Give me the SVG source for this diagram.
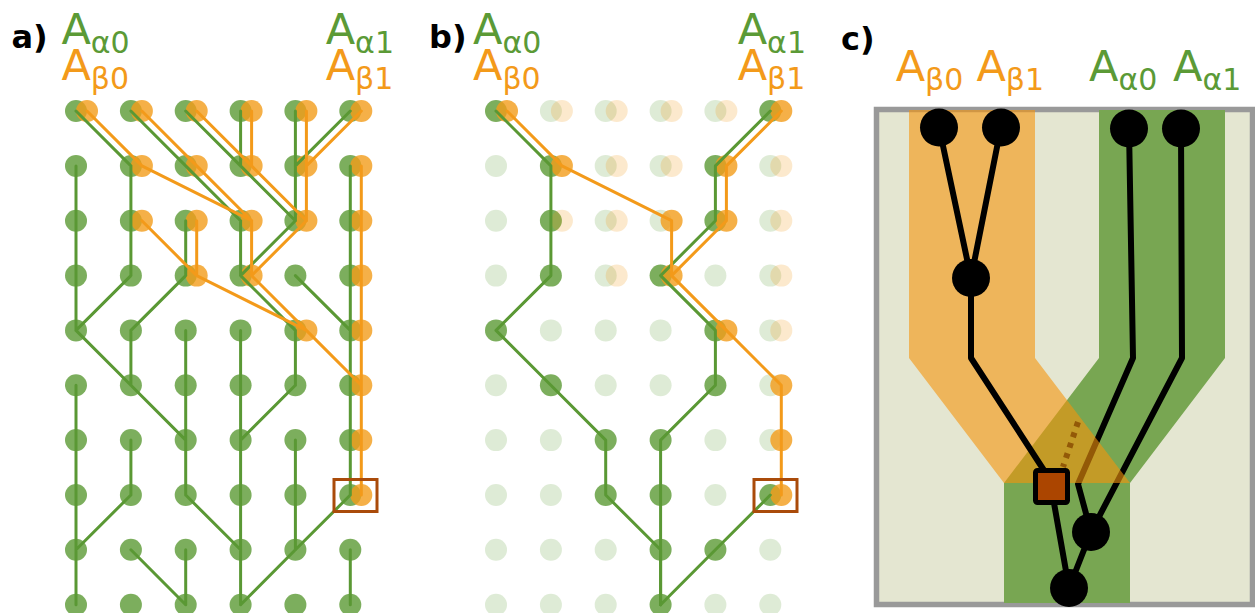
<svg xmlns="http://www.w3.org/2000/svg" width="1255" height="613" viewBox="0 0 1255 613">
  <style>
    .lbl { font-family: "DejaVu Sans", "Liberation Sans", sans-serif; font-weight: bold; font-size: 32px; fill: #000; }
    .nm { font-family: "DejaVu Sans", "Liberation Sans", sans-serif; font-size: 43px; }
    .sub { font-size: 30px; }
    .tg { fill: #5b9a36; }
    .to { fill: #f39a1a; }
    circle { r: 11px; }
    .g { fill: #5b9a34; fill-opacity: 0.8; }
    .o { fill: #f39c1a; fill-opacity: 0.8; }
    .gf { fill: #5b9a34; fill-opacity: 0.2; }
    .of { fill: #f39c1a; fill-opacity: 0.22; }
    .lg { fill: none; stroke: #5a9834; stroke-width: 3; stroke-linecap: round; stroke-linejoin: round; }
    .lo { fill: none; stroke: #f39a1a; stroke-width: 3; stroke-linecap: round; stroke-linejoin: round; }
    .box { fill: none; stroke: #aa4b0a; stroke-width: 3; }
    .cn { fill: #000; }
    .cn circle { r: 19px; }
    .bl { fill: none; stroke: #000; stroke-width: 6; stroke-linejoin: round; }
  </style>

  <!-- panel labels -->
  <text class="lbl" x="11.5" y="48">a)</text>
  <text class="lbl" x="429" y="48">b)</text>
  <text class="lbl" x="841" y="50">c)</text>

  <!-- ===== panel a ===== -->
  <g id="panel-a">
    <text class="nm tg" x="61.4" y="44">A<tspan class="sub" dy="9">α0</tspan></text>
    <text class="nm to" x="61.4" y="80">A<tspan class="sub" dy="9">β0</tspan></text>
    <text class="nm tg" x="325.7" y="44">A<tspan class="sub" dy="9">α1</tspan></text>
    <text class="nm to" x="325.7" y="80">A<tspan class="sub" dy="9">β1</tspan></text>

    <g id="a-nodes">
      <g id="a-r0c0"><circle class="g" cx="76" cy="111"/><circle class="o" cx="87" cy="111"/></g>
      <g id="a-r0c1"><circle class="g" cx="130.9" cy="111"/><circle class="o" cx="141.9" cy="111"/></g>
      <g id="a-r0c2"><circle class="g" cx="185.7" cy="111"/><circle class="o" cx="196.7" cy="111"/></g>
      <g id="a-r0c3"><circle class="g" cx="240.6" cy="111"/><circle class="o" cx="251.6" cy="111"/></g>
      <g id="a-r0c4"><circle class="g" cx="295.4" cy="111"/><circle class="o" cx="306.4" cy="111"/></g>
      <g id="a-r0c5"><circle class="g" cx="350.3" cy="111"/><circle class="o" cx="361.3" cy="111"/></g>

      <g id="a-r1c0"><circle class="g" cx="76" cy="165.9"/></g>
      <g id="a-r1c1"><circle class="g" cx="130.9" cy="165.9"/><circle class="o" cx="141.9" cy="165.9"/></g>
      <g id="a-r1c2"><circle class="g" cx="185.7" cy="165.9"/><circle class="o" cx="196.7" cy="165.9"/></g>
      <g id="a-r1c3"><circle class="g" cx="240.6" cy="165.9"/><circle class="o" cx="251.6" cy="165.9"/></g>
      <g id="a-r1c4"><circle class="g" cx="295.4" cy="165.9"/><circle class="o" cx="306.4" cy="165.9"/></g>
      <g id="a-r1c5"><circle class="g" cx="350.3" cy="165.9"/><circle class="o" cx="361.3" cy="165.9"/></g>

      <g id="a-r2c0"><circle class="g" cx="76" cy="220.7"/></g>
      <g id="a-r2c1"><circle class="g" cx="130.9" cy="220.7"/><circle class="o" cx="141.9" cy="220.7"/></g>
      <g id="a-r2c2"><circle class="g" cx="185.7" cy="220.7"/><circle class="o" cx="196.7" cy="220.7"/></g>
      <g id="a-r2c3"><circle class="g" cx="240.6" cy="220.7"/><circle class="o" cx="251.6" cy="220.7"/></g>
      <g id="a-r2c4"><circle class="g" cx="295.4" cy="220.7"/><circle class="o" cx="306.4" cy="220.7"/></g>
      <g id="a-r2c5"><circle class="g" cx="350.3" cy="220.7"/><circle class="o" cx="361.3" cy="220.7"/></g>

      <g id="a-r3c0"><circle class="g" cx="76" cy="275.6"/></g>
      <g id="a-r3c1"><circle class="g" cx="130.9" cy="275.6"/></g>
      <g id="a-r3c2"><circle class="g" cx="185.7" cy="275.6"/><circle class="o" cx="196.7" cy="275.6"/></g>
      <g id="a-r3c3"><circle class="g" cx="240.6" cy="275.6"/><circle class="o" cx="251.6" cy="275.6"/></g>
      <g id="a-r3c4"><circle class="g" cx="295.4" cy="275.6"/></g>
      <g id="a-r3c5"><circle class="g" cx="350.3" cy="275.6"/><circle class="o" cx="361.3" cy="275.6"/></g>

      <g id="a-r4c0"><circle class="g" cx="76" cy="330.4"/></g>
      <g id="a-r4c1"><circle class="g" cx="130.9" cy="330.4"/></g>
      <g id="a-r4c2"><circle class="g" cx="185.7" cy="330.4"/></g>
      <g id="a-r4c3"><circle class="g" cx="240.6" cy="330.4"/></g>
      <g id="a-r4c4"><circle class="g" cx="295.4" cy="330.4"/><circle class="o" cx="306.4" cy="330.4"/></g>
      <g id="a-r4c5"><circle class="g" cx="350.3" cy="330.4"/><circle class="o" cx="361.3" cy="330.4"/></g>

      <g id="a-r5c0"><circle class="g" cx="76" cy="385.3"/></g>
      <g id="a-r5c1"><circle class="g" cx="130.9" cy="385.3"/></g>
      <g id="a-r5c2"><circle class="g" cx="185.7" cy="385.3"/></g>
      <g id="a-r5c3"><circle class="g" cx="240.6" cy="385.3"/></g>
      <g id="a-r5c4"><circle class="g" cx="295.4" cy="385.3"/></g>
      <g id="a-r5c5"><circle class="g" cx="350.3" cy="385.3"/><circle class="o" cx="361.3" cy="385.3"/></g>

      <g id="a-r6c0"><circle class="g" cx="76" cy="440.1"/></g>
      <g id="a-r6c1"><circle class="g" cx="130.9" cy="440.1"/></g>
      <g id="a-r6c2"><circle class="g" cx="185.7" cy="440.1"/></g>
      <g id="a-r6c3"><circle class="g" cx="240.6" cy="440.1"/></g>
      <g id="a-r6c4"><circle class="g" cx="295.4" cy="440.1"/></g>
      <g id="a-r6c5"><circle class="g" cx="350.3" cy="440.1"/><circle class="o" cx="361.3" cy="440.1"/></g>

      <g id="a-r7c0"><circle class="g" cx="76" cy="495"/></g>
      <g id="a-r7c1"><circle class="g" cx="130.9" cy="495"/></g>
      <g id="a-r7c2"><circle class="g" cx="185.7" cy="495"/></g>
      <g id="a-r7c3"><circle class="g" cx="240.6" cy="495"/></g>
      <g id="a-r7c4"><circle class="g" cx="295.4" cy="495"/></g>
      <g id="a-r7c5"><circle class="g" cx="350.3" cy="495"/><circle class="o" cx="361.3" cy="495"/></g>

      <g id="a-r8c0"><circle class="g" cx="76" cy="549.8"/></g>
      <g id="a-r8c1"><circle class="g" cx="130.9" cy="549.8"/></g>
      <g id="a-r8c2"><circle class="g" cx="185.7" cy="549.8"/></g>
      <g id="a-r8c3"><circle class="g" cx="240.6" cy="549.8"/></g>
      <g id="a-r8c4"><circle class="g" cx="295.4" cy="549.8"/></g>
      <g id="a-r8c5"><circle class="g" cx="350.3" cy="549.8"/></g>

      <g id="a-r9c0"><circle class="g" cx="76" cy="604.7"/></g>
      <g id="a-r9c1"><circle class="g" cx="130.9" cy="604.7"/></g>
      <g id="a-r9c2"><circle class="g" cx="185.7" cy="604.7"/></g>
      <g id="a-r9c3"><circle class="g" cx="240.6" cy="604.7"/></g>
      <g id="a-r9c4"><circle class="g" cx="295.4" cy="604.7"/></g>
      <g id="a-r9c5"><circle class="g" cx="350.3" cy="604.7"/></g>
    </g>

    <g id="a-links">
      <path class="lg" d="M76 111L130.9 165.9M130.9 111L185.7 165.9M185.7 111L240.6 165.9M240.6 111V165.9M295.4 111V165.9M350.3 111L295.4 165.9
        M76 165.9V220.7M130.9 165.9V220.7M185.7 165.9L240.6 220.7M240.6 165.9L295.4 220.7M295.4 165.9V220.7M350.3 165.9V220.7
        M76 220.7V275.6M130.9 220.7V275.6M185.7 220.7V275.6M240.6 220.7V275.6M295.4 220.7L240.6 275.6M350.3 220.7V275.6
        M76 275.6V330.4M130.9 275.6L76 330.4M185.7 275.6L130.9 330.4M240.6 275.6L295.4 330.4M295.4 275.6L350.3 330.4M350.3 275.6V330.4
        M76 330.4L130.9 385.3M130.9 330.4V385.3M185.7 330.4V385.3M240.6 330.4V385.3M295.4 330.4V385.3M350.3 330.4V385.3
        M76 385.3V440.1M130.9 385.3L185.7 440.1M185.7 385.3V440.1M240.6 385.3V440.1M295.4 385.3L240.6 440.1M350.3 385.3V440.1
        M76 440.1V495M130.9 440.1V495M185.7 440.1V495M240.6 440.1V495M295.4 440.1V495M350.3 440.1V495
        M76 495V549.8M130.9 495L76 549.8M185.7 495L240.6 549.8M240.6 495V549.8M295.4 495V549.8M350.3 495L295.4 549.8
        M76 549.8V604.7M130.9 549.8L185.7 604.7M185.7 549.8V604.7M240.6 549.8V604.7M295.4 549.8L240.6 604.7M350.3 549.8V604.7"/>
      <path class="lo" d="M87 111L141.9 165.9M141.9 111L196.7 165.9M196.7 111L251.6 165.9M251.6 111V165.9M306.4 111V165.9M361.3 111L306.4 165.9
        M141.9 165.9L251.6 220.7M196.7 165.9L251.6 220.7M251.6 165.9L306.4 220.7M306.4 165.9V220.7M361.3 165.9V220.7
        M141.9 220.7L196.7 275.6M196.7 220.7V275.6M251.6 220.7V275.6M306.4 220.7L251.6 275.6M361.3 220.7V275.6
        M196.7 275.6L306.4 330.4M251.6 275.6L306.4 330.4M361.3 275.6V330.4
        M306.4 330.4L361.3 385.3M361.3 330.4V385.3
        M361.3 385.3V440.1M361.3 440.1V495"/>
    </g>
    <rect id="a-mark" class="box" x="334" y="479.5" width="43" height="32"/>
  </g>

  <!-- ===== panel b ===== -->
  <g id="panel-b">
    <text class="nm tg" x="473" y="44">A<tspan class="sub" dy="9">α0</tspan></text>
    <text class="nm to" x="473" y="80">A<tspan class="sub" dy="9">β0</tspan></text>
    <text class="nm tg" x="737.7" y="44">A<tspan class="sub" dy="9">α1</tspan></text>
    <text class="nm to" x="737.7" y="80">A<tspan class="sub" dy="9">β1</tspan></text>

    <g id="b-nodes" transform="translate(420 0)">
      <g id="b-r0c0"><circle class="g" cx="76" cy="111"/><circle class="o" cx="87" cy="111"/></g>
      <g id="b-r0c1"><circle class="gf" cx="130.9" cy="111"/><circle class="of" cx="141.9" cy="111"/></g>
      <g id="b-r0c2"><circle class="gf" cx="185.7" cy="111"/><circle class="of" cx="196.7" cy="111"/></g>
      <g id="b-r0c3"><circle class="gf" cx="240.6" cy="111"/><circle class="of" cx="251.6" cy="111"/></g>
      <g id="b-r0c4"><circle class="gf" cx="295.4" cy="111"/><circle class="of" cx="306.4" cy="111"/></g>
      <g id="b-r0c5"><circle class="g" cx="350.3" cy="111"/><circle class="o" cx="361.3" cy="111"/></g>

      <g id="b-r1c0"><circle class="gf" cx="76" cy="165.9"/></g>
      <g id="b-r1c1"><circle class="g" cx="130.9" cy="165.9"/><circle class="o" cx="141.9" cy="165.9"/></g>
      <g id="b-r1c2"><circle class="gf" cx="185.7" cy="165.9"/><circle class="of" cx="196.7" cy="165.9"/></g>
      <g id="b-r1c3"><circle class="gf" cx="240.6" cy="165.9"/><circle class="of" cx="251.6" cy="165.9"/></g>
      <g id="b-r1c4"><circle class="g" cx="295.4" cy="165.9"/><circle class="o" cx="306.4" cy="165.9"/></g>
      <g id="b-r1c5"><circle class="gf" cx="350.3" cy="165.9"/><circle class="of" cx="361.3" cy="165.9"/></g>

      <g id="b-r2c0"><circle class="gf" cx="76" cy="220.7"/></g>
      <g id="b-r2c1"><circle class="g" cx="130.9" cy="220.7"/><circle class="of" cx="141.9" cy="220.7"/></g>
      <g id="b-r2c2"><circle class="gf" cx="185.7" cy="220.7"/><circle class="of" cx="196.7" cy="220.7"/></g>
      <g id="b-r2c3"><circle class="gf" cx="240.6" cy="220.7"/><circle class="o" cx="251.6" cy="220.7"/></g>
      <g id="b-r2c4"><circle class="g" cx="295.4" cy="220.7"/><circle class="o" cx="306.4" cy="220.7"/></g>
      <g id="b-r2c5"><circle class="gf" cx="350.3" cy="220.7"/><circle class="of" cx="361.3" cy="220.7"/></g>

      <g id="b-r3c0"><circle class="gf" cx="76" cy="275.6"/></g>
      <g id="b-r3c1"><circle class="g" cx="130.9" cy="275.6"/></g>
      <g id="b-r3c2"><circle class="gf" cx="185.7" cy="275.6"/><circle class="of" cx="196.7" cy="275.6"/></g>
      <g id="b-r3c3"><circle class="g" cx="240.6" cy="275.6"/><circle class="o" cx="251.6" cy="275.6"/></g>
      <g id="b-r3c4"><circle class="gf" cx="295.4" cy="275.6"/></g>
      <g id="b-r3c5"><circle class="gf" cx="350.3" cy="275.6"/><circle class="of" cx="361.3" cy="275.6"/></g>

      <g id="b-r4c0"><circle class="g" cx="76" cy="330.4"/></g>
      <g id="b-r4c1"><circle class="gf" cx="130.9" cy="330.4"/></g>
      <g id="b-r4c2"><circle class="gf" cx="185.7" cy="330.4"/></g>
      <g id="b-r4c3"><circle class="gf" cx="240.6" cy="330.4"/></g>
      <g id="b-r4c4"><circle class="g" cx="295.4" cy="330.4"/><circle class="o" cx="306.4" cy="330.4"/></g>
      <g id="b-r4c5"><circle class="gf" cx="350.3" cy="330.4"/><circle class="of" cx="361.3" cy="330.4"/></g>

      <g id="b-r5c0"><circle class="gf" cx="76" cy="385.3"/></g>
      <g id="b-r5c1"><circle class="g" cx="130.9" cy="385.3"/></g>
      <g id="b-r5c2"><circle class="gf" cx="185.7" cy="385.3"/></g>
      <g id="b-r5c3"><circle class="gf" cx="240.6" cy="385.3"/></g>
      <g id="b-r5c4"><circle class="g" cx="295.4" cy="385.3"/></g>
      <g id="b-r5c5"><circle class="gf" cx="350.3" cy="385.3"/><circle class="o" cx="361.3" cy="385.3"/></g>

      <g id="b-r6c0"><circle class="gf" cx="76" cy="440.1"/></g>
      <g id="b-r6c1"><circle class="gf" cx="130.9" cy="440.1"/></g>
      <g id="b-r6c2"><circle class="g" cx="185.7" cy="440.1"/></g>
      <g id="b-r6c3"><circle class="g" cx="240.6" cy="440.1"/></g>
      <g id="b-r6c4"><circle class="gf" cx="295.4" cy="440.1"/></g>
      <g id="b-r6c5"><circle class="gf" cx="350.3" cy="440.1"/><circle class="o" cx="361.3" cy="440.1"/></g>

      <g id="b-r7c0"><circle class="gf" cx="76" cy="495"/></g>
      <g id="b-r7c1"><circle class="gf" cx="130.9" cy="495"/></g>
      <g id="b-r7c2"><circle class="g" cx="185.7" cy="495"/></g>
      <g id="b-r7c3"><circle class="g" cx="240.6" cy="495"/></g>
      <g id="b-r7c4"><circle class="gf" cx="295.4" cy="495"/></g>
      <g id="b-r7c5"><circle class="g" cx="350.3" cy="495"/><circle class="o" cx="361.3" cy="495"/></g>

      <g id="b-r8c0"><circle class="gf" cx="76" cy="549.8"/></g>
      <g id="b-r8c1"><circle class="gf" cx="130.9" cy="549.8"/></g>
      <g id="b-r8c2"><circle class="gf" cx="185.7" cy="549.8"/></g>
      <g id="b-r8c3"><circle class="g" cx="240.6" cy="549.8"/></g>
      <g id="b-r8c4"><circle class="g" cx="295.4" cy="549.8"/></g>
      <g id="b-r8c5"><circle class="gf" cx="350.3" cy="549.8"/></g>

      <g id="b-r9c0"><circle class="gf" cx="76" cy="604.7"/></g>
      <g id="b-r9c1"><circle class="gf" cx="130.9" cy="604.7"/></g>
      <g id="b-r9c2"><circle class="gf" cx="185.7" cy="604.7"/></g>
      <g id="b-r9c3"><circle class="g" cx="240.6" cy="604.7"/></g>
      <g id="b-r9c4"><circle class="gf" cx="295.4" cy="604.7"/></g>
      <g id="b-r9c5"><circle class="gf" cx="350.3" cy="604.7"/></g>
    </g>

    <g id="b-links" transform="translate(420 0)">
      <path class="lg" d="M76 111L130.9 165.9V220.7V275.6L76 330.4L130.9 385.3L185.7 440.1V495L240.6 549.8V604.7"/>
      <path class="lg" d="M350.3 111L295.4 165.9V220.7L240.6 275.6L295.4 330.4V385.3L240.6 440.1V495V549.8V604.7"/>
      <path class="lg" d="M350.3 495L295.4 549.8L240.6 604.7"/>
      <path class="lo" d="M87 111L141.9 165.9L251.6 220.7V275.6L306.4 330.4L361.3 385.3V440.1V495"/>
      <path class="lo" d="M361.3 111L306.4 165.9V220.7L251.6 275.6"/>
    </g>
    <rect id="b-mark" class="box" x="754" y="479.5" width="43" height="32"/>
  </g>

  <!-- ===== panel c ===== -->
  <g id="panel-c">
    <text class="nm to" x="895.7" y="81">A<tspan class="sub" dy="9">β0</tspan></text>
    <text class="nm to" x="976.4" y="81">A<tspan class="sub" dy="9">β1</tspan></text>
    <text class="nm tg" x="1089" y="81">A<tspan class="sub" dy="9">α0</tspan></text>
    <text class="nm tg" x="1173" y="81">A<tspan class="sub" dy="9">α1</tspan></text>

    <rect id="c-frame" x="876.5" y="109.5" width="376" height="495" fill="#e4e6d1" stroke="#999999" stroke-width="5.5"/>
    <polygon id="c-band-alpha" points="1099,110 1225,110 1225,358 1130,483 1130,603 1004,603 1004,483 1099,358" fill="#78a652"/>

    <g id="c-links-alpha">
      <path class="bl" d="M1129 128L1133 358L1078 484L1091 532"/>
      <path class="bl" d="M1181 128L1182 358L1091 532"/>
      <path d="M1078 422L1063 467" fill="none" stroke="#000" stroke-width="6" stroke-dasharray="5 6"/>
    </g>

    <polygon id="c-band-beta" points="909,110 1035,110 1035,358 1130,483 1004,483 909,358" fill="#f5950b" fill-opacity="0.6"/>

    <g id="c-links-beta">
      <path class="bl" d="M939 127L971 278M1001 127L971 278V358L1047 475"/>
      <path class="bl" d="M1051 486L1069 588M1091 532L1069 588"/>
    </g>

    <g id="c-nodes" class="cn">
      <g id="c-b0"><circle cx="939" cy="127.5"/></g>
      <g id="c-b1"><circle cx="1001" cy="127.5"/></g>
      <g id="c-a0"><circle cx="1129" cy="128.5"/></g>
      <g id="c-a1"><circle cx="1181" cy="128.5"/></g>
      <g id="c-bm"><circle cx="971" cy="278"/></g>
      <g id="c-am"><circle cx="1091" cy="532"/></g>
      <g id="c-root"><circle cx="1069" cy="588"/></g>
      <g id="c-mark"><rect x="1035.5" y="470.5" width="32" height="32" rx="2" fill="#ab4500" stroke="#000" stroke-width="5"/></g>
    </g>
  </g>
</svg>
